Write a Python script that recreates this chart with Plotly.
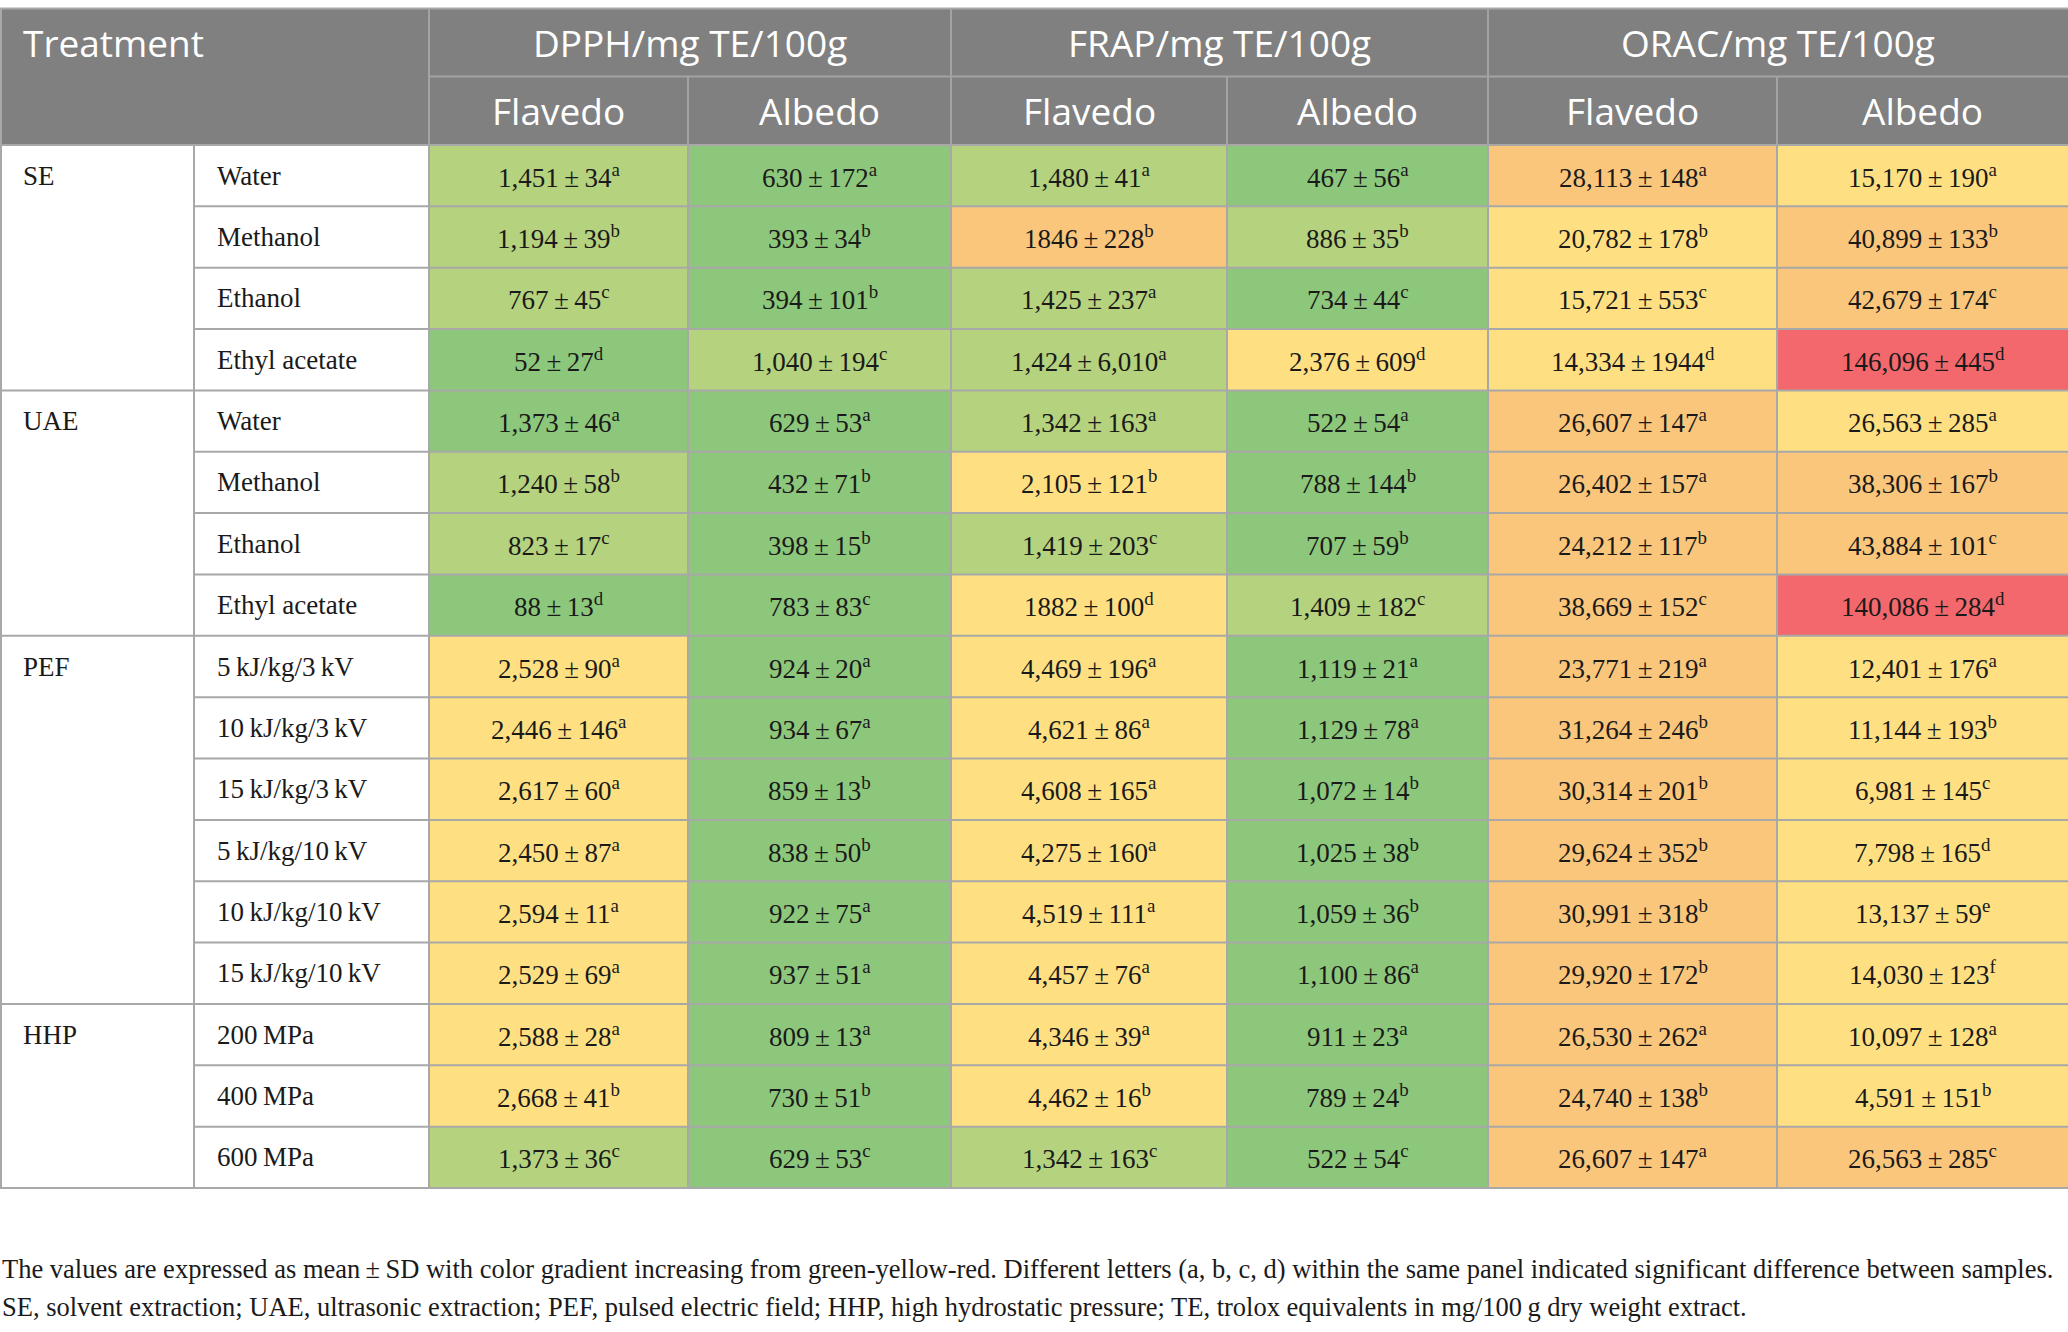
import plotly.graph_objects as go

# ---------------- data ----------------
groups = ["SE", "UAE", "PEF", "HHP"]
group_sizes = [4, 4, 6, 3]
T = "\u2009"
treatments = ["Water", "Methanol", "Ethanol", "Ethyl acetate",
              "Water", "Methanol", "Ethanol", "Ethyl acetate",
              f"5{T}kJ/kg/3{T}kV", f"10{T}kJ/kg/3{T}kV", f"15{T}kJ/kg/3{T}kV",
              f"5{T}kJ/kg/10{T}kV", f"10{T}kJ/kg/10{T}kV", f"15{T}kJ/kg/10{T}kV",
              f"200{T}MPa", f"400{T}MPa", f"600{T}MPa"]
assays = ["DPPH/mg TE/100g", "FRAP/mg TE/100g", "ORAC/mg TE/100g"]
parts = ["Flavedo", "Albedo"]

dpph_flavedo_mean = ["1,451", "1,194", "767", "52", "1,373", "1,240", "823", "88",
                     "2,528", "2,446", "2,617", "2,450", "2,594", "2,529", "2,588", "2,668", "1,373"]
dpph_flavedo_sd = ["34", "39", "45", "27", "46", "58", "17", "13",
                   "90", "146", "60", "87", "11", "69", "28", "41", "36"]
dpph_flavedo_letter = "abcdabcdaaaaaaabc"
dpph_flavedo_color = "lllggllgyyyyyyyyl"

dpph_albedo_mean = ["630", "393", "394", "1,040", "629", "432", "398", "783",
                    "924", "934", "859", "838", "922", "937", "809", "730", "629"]
dpph_albedo_sd = ["172", "34", "101", "194", "53", "71", "15", "83",
                  "20", "67", "13", "50", "75", "51", "13", "51", "53"]
dpph_albedo_letter = "abbcabbcaabbaaabc"
dpph_albedo_color = "ggglggggggggggggg"

frap_flavedo_mean = ["1,480", "1846", "1,425", "1,424", "1,342", "2,105", "1,419", "1882",
                     "4,469", "4,621", "4,608", "4,275", "4,519", "4,457", "4,346", "4,462", "1,342"]
frap_flavedo_sd = ["41", "228", "237", "6,010", "163", "121", "203", "100",
                   "196", "86", "165", "160", "111", "76", "39", "16", "163"]
frap_flavedo_letter = "abaaabcdaaaaaaabc"
frap_flavedo_color = "lolllylyyyyyyyyyl"

frap_albedo_mean = ["467", "886", "734", "2,376", "522", "788", "707", "1,409",
                    "1,119", "1,129", "1,072", "1,025", "1,059", "1,100", "911", "789", "522"]
frap_albedo_sd = ["56", "35", "44", "609", "54", "144", "59", "182",
                  "21", "78", "14", "38", "36", "86", "23", "24", "54"]
frap_albedo_letter = "abcdabbcaabbbaabc"
frap_albedo_color = "glgygggl" + "ggggggggg"

orac_flavedo_mean = ["28,113", "20,782", "15,721", "14,334", "26,607", "26,402", "24,212", "38,669",
                     "23,771", "31,264", "30,314", "29,624", "30,991", "29,920", "26,530", "24,740", "26,607"]
orac_flavedo_sd = ["148", "178", "553", "1944", "147", "157", "117", "152",
                   "219", "246", "201", "352", "318", "172", "262", "138", "147"]
orac_flavedo_letter = "abcdaabcabbbbbaba"
orac_flavedo_color = "oyyyoooo" + "ooooooooo"

orac_albedo_mean = ["15,170", "40,899", "42,679", "146,096", "26,563", "38,306", "43,884", "140,086",
                    "12,401", "11,144", "6,981", "7,798", "13,137", "14,030", "10,097", "4,591", "26,563"]
orac_albedo_sd = ["190", "133", "174", "445", "285", "167", "101", "284",
                  "176", "193", "145", "165", "59", "123", "128", "151", "285"]
orac_albedo_letter = "abcdabcdabcdefabc"
orac_albedo_color = "yooryoor" + "yyyyyyyyo"

footnote_1 = ("The values are expressed as mean\u2009±\u2009SD with color gradient increasing from "
              "green-yellow-red. Different letters (a, b, c, d) within the same panel indicated "
              "significant difference between samples.")
footnote_2 = ("SE, solvent extraction; UAE, ultrasonic extraction; PEF, pulsed electric field; "
              "HHP, high hydrostatic pressure; TE, trolox equivalents in mg/100\u2009g dry weight extract.")

# ---------------- style / layout ----------------
W, H = 2068, 1332
palette = {"g": "#8DC77B", "l": "#B5D27E", "y": "#FEE083", "o": "#F9C67C", "r": "#F2686C"}
HEADER_BG = "#808080"
LINE = "#A8A8A8"
HEAD_LINE = "#A3A3A3"
TEXT = "#1a1a1a"
SERIF = "Liberation Serif"
SANS = "Open Sans"
VAL_SIZE = 27
HEAD_SIZE = 37

col_edges = [0, 194, 429, 688, 951, 1227, 1488, 1777, 2068]
top, head_mid, head_bot, tbl_bot = 8.5, 76.5, 145, 1188
n_rows = len(treatments)
rh = (tbl_bot - head_bot) / n_rows
row_y = [head_bot + i * rh for i in range(n_rows + 1)]

columns = [
    (dpph_flavedo_mean, dpph_flavedo_sd, dpph_flavedo_letter, dpph_flavedo_color),
    (dpph_albedo_mean, dpph_albedo_sd, dpph_albedo_letter, dpph_albedo_color),
    (frap_flavedo_mean, frap_flavedo_sd, frap_flavedo_letter, frap_flavedo_color),
    (frap_albedo_mean, frap_albedo_sd, frap_albedo_letter, frap_albedo_color),
    (orac_flavedo_mean, orac_flavedo_sd, orac_flavedo_letter, orac_flavedo_color),
    (orac_albedo_mean, orac_albedo_sd, orac_albedo_letter, orac_albedo_color),
]

shapes = []
ann = []

def rect(x0, y0, x1, y1, fill):
    shapes.append(dict(type="rect", xref="x", yref="y", x0=x0, x1=x1, y0=y0, y1=y1,
                       fillcolor=fill, line=dict(width=0), layer="below"))

def line(x0, y0, x1, y1, color=LINE, w=2):
    shapes.append(dict(type="line", xref="x", yref="y", x0=x0, x1=x1, y0=y0, y1=y1,
                       line=dict(color=color, width=w)))

def text(x, y, s, family, size, color, xanchor="center"):
    ann.append(dict(x=x, y=y, text=s, showarrow=False, xanchor=xanchor, yanchor="middle",
                    font=dict(family=family, size=size, color=color)))

# header background
rect(0, top, W, head_bot, HEADER_BG)

# data cells
for ci, (means, sds, letters, colors) in enumerate(columns):
    x0, x1 = col_edges[ci + 2], col_edges[ci + 3]
    for ri in range(n_rows):
        rect(x0, row_y[ri], x1, row_y[ri + 1], palette[colors[ri]])
        text((x0 + x1) / 2, (row_y[ri] + row_y[ri + 1]) / 2,
             f"{means[ri]}{T}±{T}{sds[ri]}<sup>{letters[ri]}</sup>", SERIF, VAL_SIZE, TEXT)

# header text
text(21, (top + head_mid) / 2, "Treatment", SANS, HEAD_SIZE, "white", "left")
for ai, a in enumerate(assays):
    x0, x1 = col_edges[2 + 2 * ai], col_edges[4 + 2 * ai]
    text((x0 + x1) / 2, (top + head_mid) / 2, a, SANS, HEAD_SIZE, "white")
    for pi, p in enumerate(parts):
        px0, px1 = col_edges[2 + 2 * ai + pi], col_edges[3 + 2 * ai + pi]
        text((px0 + px1) / 2, (head_mid + head_bot) / 2, p, SANS, HEAD_SIZE, "white")

# header lines
line(0, top, W, top)
line(col_edges[2], head_mid, W, head_mid, HEAD_LINE)
for ai in range(3):
    line(col_edges[2 + 2 * ai], top, col_edges[2 + 2 * ai], head_bot, HEAD_LINE)
    line(col_edges[3 + 2 * ai], head_mid, col_edges[3 + 2 * ai], head_bot, HEAD_LINE)

# group + treatment labels, body lines
group_starts = []
s = 0
for g, n in zip(groups, group_sizes):
    group_starts.append(s)
    text(21, (row_y[s] + row_y[s + 1]) / 2, g, SERIF, VAL_SIZE, TEXT, "left")
    s += n
for ri, t in enumerate(treatments):
    text(col_edges[1] + 21, (row_y[ri] + row_y[ri + 1]) / 2, t, SERIF, VAL_SIZE, TEXT, "left")

for ri in range(n_rows + 1):
    full = ri in group_starts or ri == n_rows
    line(0 if full else col_edges[1], row_y[ri], W, row_y[ri])
line(1, top, 1, tbl_bot)
line(col_edges[1], head_bot, col_edges[1], tbl_bot)
for xe in col_edges[2:-1]:
    line(xe, head_bot, xe, tbl_bot)

# footnotes
text(0, 1269, footnote_1, SERIF, 26.5, TEXT, "left")
text(0, 1307, footnote_2, SERIF, 26.5, TEXT, "left")

fig = go.Figure()
fig.update_layout(
    width=W, height=H, margin=dict(l=0, r=0, t=0, b=0),
    paper_bgcolor="white", plot_bgcolor="white",
    xaxis=dict(range=[0, W], visible=False, fixedrange=True),
    yaxis=dict(range=[H, 0], visible=False, fixedrange=True),
    shapes=shapes, annotations=ann, showlegend=False,
)
fig.write_html("out.html", config={"displayModeBar": False},
               post_script="document.body.style.margin='0';document.body.style.overflow='hidden';")
